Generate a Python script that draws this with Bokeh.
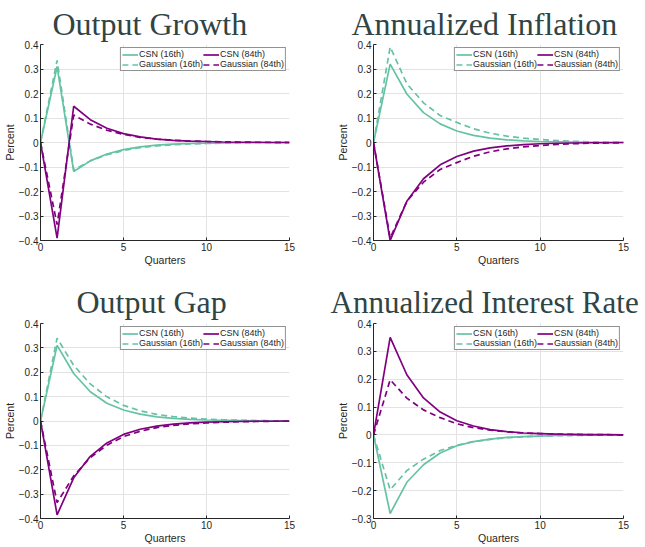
from bokeh.plotting import figure
from bokeh.layouts import column, row
from bokeh.models import Range1d, FixedTicker
from bokeh.embed import file_html
from bokeh.resources import INLINE

quarters = list(range(16))

# Output Growth
og_csn16 = [0, 0.31, -0.118, -0.075, -0.047, -0.029, -0.018, -0.011, -0.007, -0.004, -0.003, -0.002, -0.001, -0.001, 0.0, 0.0]
og_csn84 = [0, -0.39, 0.148, 0.093, 0.058, 0.036, 0.023, 0.014, 0.009, 0.006, 0.004, 0.002, 0.001, 0.001, 0.0, 0.0]
og_g16 = [0, 0.335, -0.112, -0.075, -0.05, -0.033, -0.021, -0.014, -0.009, -0.006, -0.004, -0.003, -0.002, -0.001, -0.001, 0.0]
og_g84 = [0, -0.335, 0.112, 0.075, 0.05, 0.033, 0.021, 0.014, 0.009, 0.006, 0.004, 0.003, 0.002, 0.001, 0.001, 0.0]

# Annualized Inflation
inf_csn16 = [0, 0.32, 0.198, 0.122, 0.076, 0.047, 0.029, 0.018, 0.011, 0.007, 0.004, 0.003, 0.002, 0.001, 0.001, 0.0]
inf_csn84 = [0, -0.4, -0.24, -0.148, -0.091, -0.057, -0.035, -0.022, -0.014, -0.009, -0.005, -0.003, -0.002, -0.001, -0.001, 0.0]
inf_g16 = [0, 0.39, 0.24, 0.162, 0.11, 0.082, 0.056, 0.038, 0.026, 0.018, 0.012, 0.008, 0.005, 0.003, 0.002, 0.001]
inf_g84 = [0, -0.39, -0.24, -0.162, -0.11, -0.082, -0.056, -0.038, -0.026, -0.018, -0.012, -0.008, -0.005, -0.003, -0.002, -0.001]

# Output Gap
gap_csn16 = [0, 0.31, 0.195, 0.12, 0.073, 0.045, 0.028, 0.017, 0.011, 0.007, 0.004, 0.003, 0.002, 0.001, 0.001, 0.0]
gap_csn84 = [0, -0.385, -0.233, -0.145, -0.09, -0.055, -0.034, -0.021, -0.013, -0.008, -0.005, -0.003, -0.002, -0.001, -0.001, 0.0]
gap_g16 = [0, 0.34, 0.228, 0.152, 0.099, 0.064, 0.042, 0.027, 0.018, 0.012, 0.008, 0.005, 0.003, 0.002, 0.001, 0.001]
gap_g84 = [0, -0.335, -0.225, -0.15, -0.099, -0.064, -0.042, -0.027, -0.018, -0.012, -0.008, -0.005, -0.003, -0.002, -0.001, -0.001]

# Annualized Interest Rate
ir_csn16 = [0, -0.282, -0.17, -0.107, -0.065, -0.039, -0.024, -0.015, -0.009, -0.006, -0.004, -0.002, -0.001, -0.001, 0.0, 0.0]
ir_csn84 = [0, 0.35, 0.216, 0.133, 0.082, 0.051, 0.032, 0.019, 0.012, 0.007, 0.005, 0.003, 0.002, 0.001, 0.001, 0.0]
ir_g16 = [0, -0.197, -0.128, -0.087, -0.056, -0.037, -0.024, -0.016, -0.01, -0.007, -0.004, -0.003, -0.002, -0.001, -0.001, 0.0]
ir_g84 = [0, 0.198, 0.132, 0.09, 0.062, 0.04, 0.026, 0.017, 0.011, 0.007, 0.005, 0.003, 0.002, 0.001, 0.001, 0.0]

yticks_a = [-0.4, -0.3, -0.2, -0.1, 0, 0.1, 0.2, 0.3, 0.4]
yticks_b = [-0.3, -0.2, -0.1, 0, 0.1, 0.2, 0.3, 0.4]
xticks = [0, 5, 10, 15]

TEAL = "#66c2a5"
PURPLE = "#800080"
AX = "#262626"


def make(title, csn16, csn84, g16, g84, yticks, ymin, ymax, w, h, left, right, top, bottom,
         toff, tsize, tstand):
    p = figure(width=w, height=h, output_backend="svg", toolbar_location=None,
               x_range=Range1d(0, 15), y_range=Range1d(ymin, ymax),
               min_border_left=left, min_border_right=right,
               min_border_top=top, min_border_bottom=bottom)
    p.title.text = title
    p.title.text_font = "Liberation Serif"
    p.title.text_font_size = tsize
    p.title.text_font_style = "normal"
    p.title.text_color = "#2f4444"
    p.title.align = "left"
    p.title.offset = toff
    p.title.standoff = tstand
    p.outline_line_color = None
    p.background_fill_color = "white"

    # column-major legend order: first column CSN/Gaussian (16th), second column (84th)
    p.line(quarters, csn16, color=TEAL, line_width=1.7, legend_label="CSN (16th)")
    p.line(quarters, g16, color=TEAL, line_width=1.7, line_dash="6 4", legend_label="Gaussian (16th)")
    p.line(quarters, csn84, color=PURPLE, line_width=1.7, legend_label="CSN (84th)")
    p.line(quarters, g84, color=PURPLE, line_width=1.7, line_dash="6 4", legend_label="Gaussian (84th)")

    p.xaxis.ticker = FixedTicker(ticks=xticks)
    p.yaxis.ticker = FixedTicker(ticks=yticks)
    p.yaxis.major_label_overrides = {0: "0"}
    p.xaxis.axis_label = "Quarters"
    p.yaxis.axis_label = "Percent"
    for ax in (p.xaxis, p.yaxis):
        ax.axis_label_text_font = "Liberation Sans"
        ax.axis_label_text_font_size = "10.5px"
        ax.axis_label_text_font_style = "normal"
        ax.axis_label_text_color = AX
        ax.major_label_text_font = "Liberation Sans"
        ax.major_label_text_font_size = "10px"
        ax.major_label_text_color = AX
        ax.axis_line_color = AX
        ax.major_tick_line_color = AX
        ax.major_tick_in = 3
        ax.major_tick_out = 0
        ax.minor_tick_line_color = None
        ax.major_label_standoff = 2
        ax.axis_label_standoff = 0
    p.grid.grid_line_color = "#e3e3e3"
    p.grid.grid_line_width = 1

    lg = p.legend[0]
    lg.ncols = 2
    lg.location = "top_right"
    lg.border_line_color = AX
    lg.border_line_width = 1
    lg.background_fill_alpha = 1
    lg.label_text_font = "Liberation Sans"
    lg.label_text_font_size = "9px"
    lg.label_text_color = AX
    lg.glyph_width = 16
    lg.glyph_height = 9
    lg.label_height = 9
    lg.label_standoff = 1
    lg.spacing = 0
    lg.padding = 1
    lg.margin = 3
    return p


p1 = make("Output Growth", og_csn16, og_csn84, og_g16, og_g84, yticks_a, -0.4, 0.4,
          320, 275, 39, 31, 43, 35, 12, "32px", 6)
p2 = make("Annualized Inflation", inf_csn16, inf_csn84, inf_g16, inf_g84, yticks_a, -0.4, 0.4,
          323, 275, 53, 20, 43, 35, -22, "32px", 6)
p3 = make("Output Gap", gap_csn16, gap_csn84, gap_g16, gap_g84, yticks_a, -0.4, 0.4,
          320, 271, 39, 31, 48, 27, 36, "32px", 8)
p4 = make("Annualized Interest Rate", ir_csn16, ir_csn84, ir_g16, ir_g84, yticks_b, -0.3, 0.4,
          323, 271, 53, 20, 48, 27, -43, "31px", 8)

layout = column(row(p1, p2), row(p3, p4))
open("out.html", "w").write(file_html(layout, INLINE))
